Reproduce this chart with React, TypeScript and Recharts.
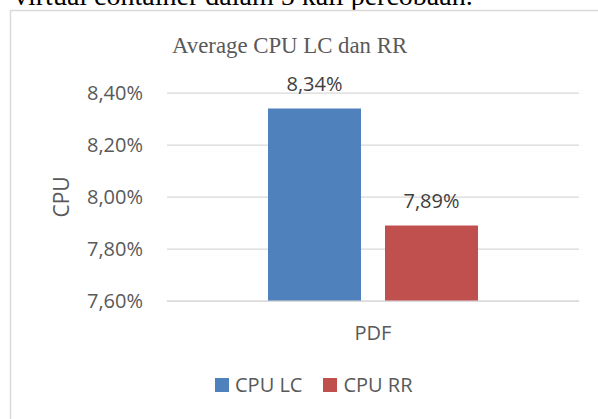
import React from 'react';
import { BarChart, Bar, XAxis, YAxis, CartesianGrid, Legend, LabelList, Label } from 'recharts';

const categories = ['PDF'];
const cpuLC = [8.34];
const cpuRR = [7.89];
const yTicks = [7.6, 7.8, 8.0, 8.2, 8.4];
const seriesNames = ['CPU LC', 'CPU RR'];
const seriesColors = ['#4F81BD', '#C0504D'];
const chartTitle = 'Average CPU LC dan RR';
const yAxisTitle = 'CPU';
const captionText = 'virtual container dalam 5 kali percobaan.';

const data = categories.map((c, i) => ({ category: c, lc: cpuLC[i], rr: cpuRR[i] }));

const fmt = (v: any) => Number(v).toFixed(2).replace('.', ',') + '%';
const FONT = '"Open Sans", "Noto Sans", sans-serif';
const SERIF = '"Liberation Serif", "DejaVu Serif", serif';
const TEXT = '#595959';

const LegendContent = () => (
  <div style={{ display: 'flex', alignItems: 'center', height: 20, fontFamily: FONT, fontSize: 20, color: TEXT, lineHeight: '20px', whiteSpace: 'nowrap' }}>
    {seriesNames.map((n, i) => (
      <div key={n} style={{ display: 'flex', alignItems: 'center', marginRight: 21 }}>
        <span style={{ display: 'inline-block', width: 14, height: 14, background: seriesColors[i], marginRight: 6 }} />
        <span>{n}</span>
      </div>
    ))}
  </div>
);

const YLabel = (props: any) => {
  const vb = props.viewBox || { x: 0, y: 93, width: 167, height: 208 };
  const cx = vb.x + 61;
  const cy = vb.y + vb.height / 2;
  return (
    <text x={cx} y={cy} transform={`rotate(-90, ${cx}, ${cy})`} textAnchor="middle" dominantBaseline="central"
      fill={TEXT} fontSize={21} fontFamily={FONT}>{yAxisTitle}</text>
  );
};

export default function App() {
  return (
    <div style={{ position: 'absolute', left: 0, top: 0, width: 598, height: 419, overflow: 'hidden', background: '#fff' }}>
      <svg width={598} height={419} style={{ position: 'absolute', left: 0, top: 0 }}>
        <text x={14} y={5} fontFamily={SERIF} fontSize={28} fill="#000">{captionText}</text>
        <rect x={10.5} y={10.5} width={620} height={430} fill="none" stroke="#D9D9D9" strokeWidth={1.5} />
        <text x={172} y={53} fontFamily={SERIF} fontSize={22.8} fill={TEXT}>{chartTitle}</text>
      </svg>
      <div style={{ position: 'absolute', left: 0, top: 0 }}>
        <BarChart width={598} height={419} data={data} margin={{ top: 93, right: 19, bottom: 68, left: 0 }} barGap={24}>
          <CartesianGrid vertical={false} stroke="#D9D9D9" strokeWidth={1.25} />
          <XAxis dataKey="category" axisLine={{ stroke: '#D9D9D9', strokeWidth: 1.25 }} tickLine={false} tickSize={0} tickMargin={25} height={30}
            tick={{ fill: TEXT, fontSize: 20, fontFamily: FONT }} />
          <YAxis width={167} domain={[7.6, 8.4]} ticks={yTicks} allowDataOverflow axisLine={false} tickLine={false} tickSize={0} tickMargin={24}
            tickFormatter={fmt} tick={{ fill: TEXT, fontSize: 20, fontFamily: FONT }}>
            <Label content={YLabel} />
          </YAxis>
          <Legend content={LegendContent} wrapperStyle={{ left: 215, top: 375, width: 'auto', bottom: 'auto' }} />
          <Bar dataKey="lc" name={seriesNames[0]} fill={seriesColors[0]} barSize={93} isAnimationActive={false}>
            <LabelList dataKey="lc" position="top" offset={18} formatter={fmt} fill="#404040" fontSize={20} fontFamily={FONT} />
          </Bar>
          <Bar dataKey="rr" name={seriesNames[1]} fill={seriesColors[1]} barSize={93} isAnimationActive={false}>
            <LabelList dataKey="rr" position="top" offset={18} formatter={fmt} fill="#404040" fontSize={20} fontFamily={FONT} />
          </Bar>
        </BarChart>
      </div>
    </div>
  );
}
